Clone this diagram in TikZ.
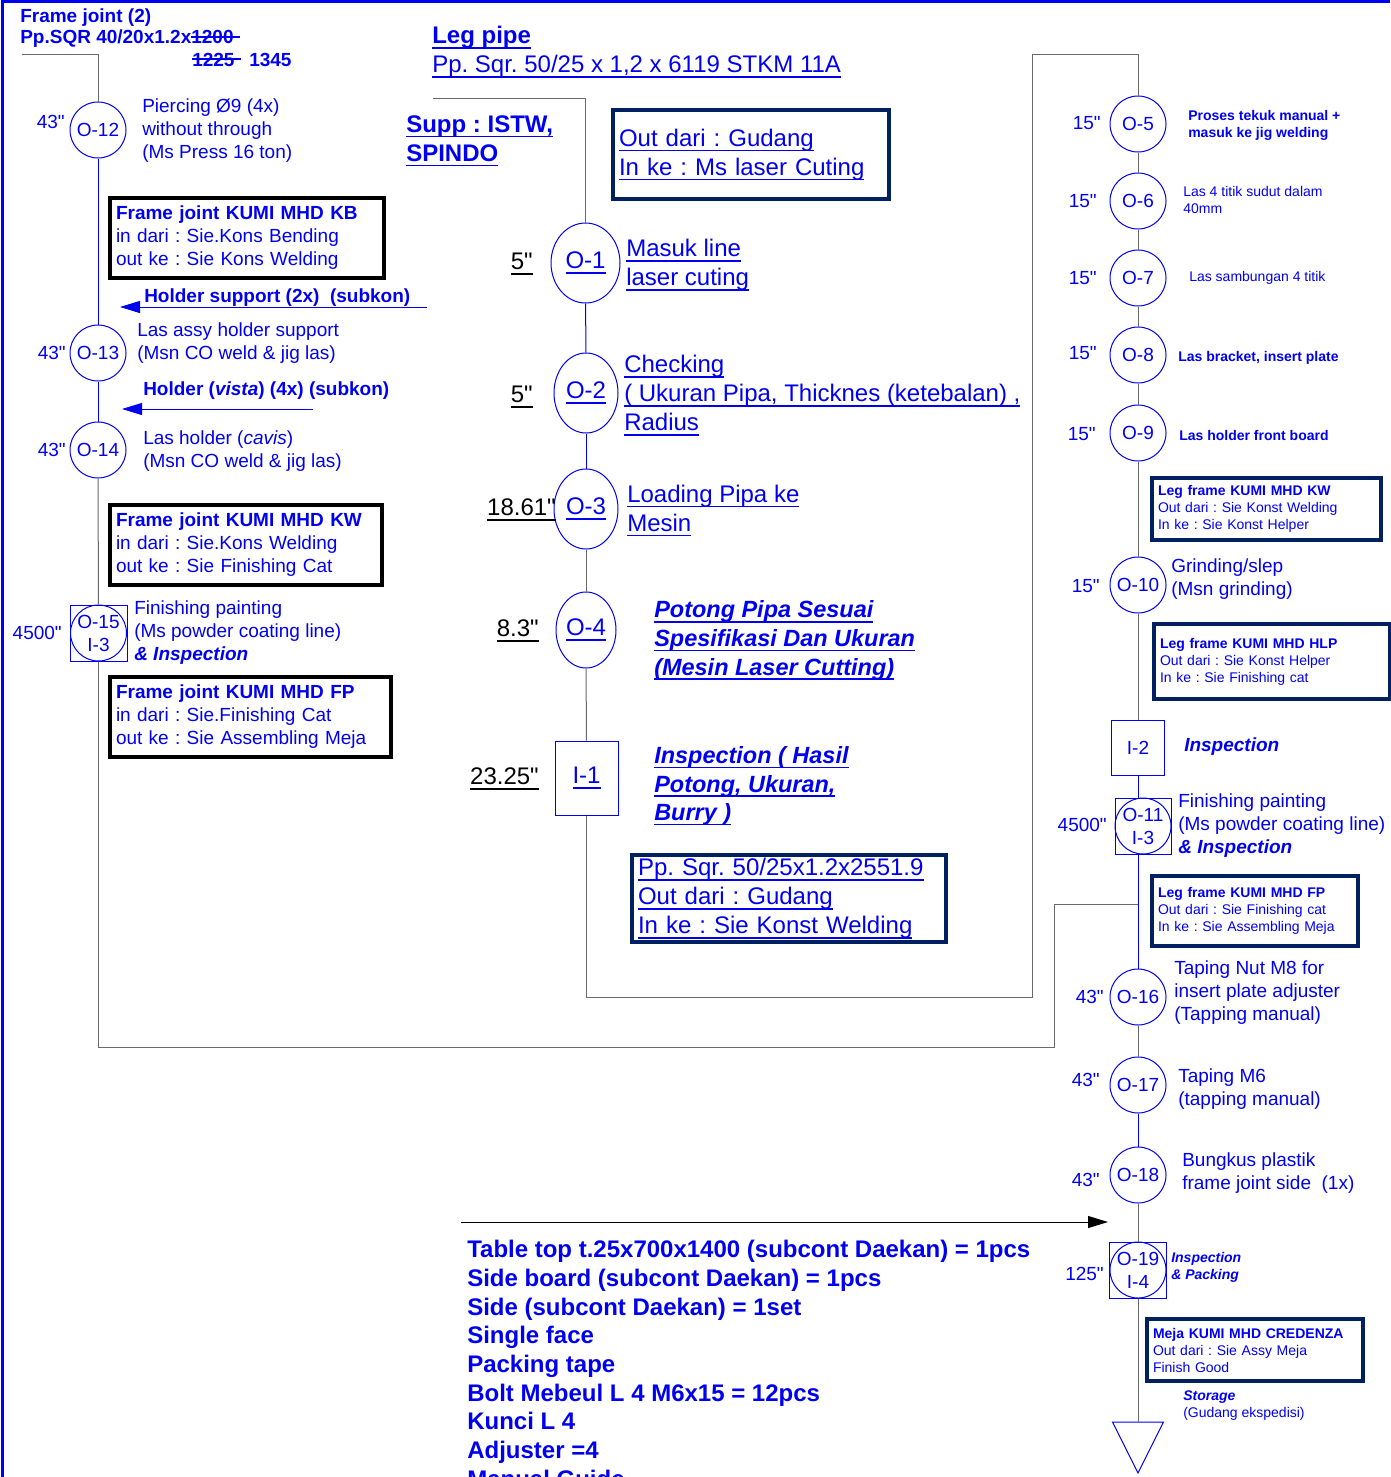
\documentclass[tikz,border=0pt]{standalone}
\usepackage{fontspec}
\setmainfont{Liberation Sans}
\usepackage{tikz}
\usetikzlibrary{shapes.geometric, arrows.meta}
\usepackage{xcolor}
\definecolor{flowblue}{RGB}{0,0,240}
\definecolor{boxnavy}{RGB}{0,32,96}
\definecolor{lngray}{RGB}{105,105,105}
\newcommand{\fnorm}{\fontsize{14.25}{17.25}\selectfont}
\newcommand{\fsmall}{\fontsize{10.5}{12.75}\selectfont}
\newcommand{\fbig}{\fontsize{18}{21.75}\selectfont}
\newcommand{\fbigit}{\fontsize{17.6}{21.5}\selectfont\bfseries\itshape}
\newcommand{\flist}{\fontsize{18}{21.5}\selectfont\bfseries}
\newcommand{\strk}[2]{\leavevmode\rlap{\rule[0.33em]{#2}{1.5pt}}#1}
\newcommand{\undl}[1]{\leavevmode\setbox0\hbox{#1}\rlap{\rule[-0.2em]{\wd0}{1.1pt}}\box0}
\newcommand{\secmark}{\XeTeXglyph\XeTeXcharglyph"22\relax}
\frenchspacing

\begin{document}
\begin{tikzpicture}[x=0.75pt,y=0.75pt,yscale=-1,xscale=1,
  proc/.style={circle,draw=flowblue,line width=0.75pt,minimum size=42pt,inner sep=0pt,text=flowblue,font=\fnorm},
  procell/.style={ellipse,draw=flowblue,line width=0.75pt,inner sep=0pt,text=flowblue,font=\fbig},
  insp/.style={rectangle,draw=flowblue,line width=0.75pt,inner sep=0pt,text=flowblue,font=\fnorm},
  inlbl/.style={align=center,inner sep=0pt,text=flowblue,font=\fnorm},
  fjbox/.style={rectangle,draw=black,line width=3pt,anchor=north west,inner xsep=4.5pt,inner ysep=0pt,align=left,text=flowblue,font=\fnorm},
  navbox/.style={fjbox,draw=boxnavy},
  lbl/.style={anchor=west,inner sep=0pt,align=left,text=flowblue,font=\fnorm},
  lblsmall/.style={lbl,font=\fsmall},
  lblbig/.style={lbl,font=\fbig},
  tm/.style={anchor=east,inner sep=0pt,text=flowblue,font=\fnorm},
  tmbig/.style={anchor=east,inner sep=0pt,text=black,font=\fbig},
  blueln/.style={draw=flowblue,line width=0.75pt},
  grayln/.style={draw=lngray,line width=0.75pt},
  head/.style={-{Triangle[length=15pt,width=9pt]}}
]
\useasboundingbox (0,0) rectangle (1390,1477);
%page frame
\draw[flowblue,line width=2.25pt] (2.5,1477) -- (2.5,1.5) -- (1390,1.5);

%%%%% Frame joint column
% Text Node
\node[lbl,font=\fnorm\bfseries] (fjname) at (20,18) {Frame joint (2)};
\node[lbl,font=\fnorm\bfseries] (fjpipe) at (20,39) {Pp.SQR 40/20x1.2x\strk{1200}{36.75pt}};
\node[lbl,font=\fnorm\bfseries] (fjlen) at (192,60) {\makebox[42.75pt][l]{\strk{1225}{36.75pt}}1345};

\node[proc] (o12) at (98,130) {O-12};
\node[tm] (t12) at (65,122) {43\secmark};
\node[lbl] (d12) at (142,131) {Piercing Ø9 (4x)\\without through\\(Ms Press 16 ton)};

\node[fjbox,text width=196.5pt,minimum height=60pt] (fjkb) at (108,196) {\textbf{Frame joint KUMI MHD KB}\\in dari : Sie.Kons Bending\\out ke : Sie Kons Welding};

% Text Node
\node[lbl,font=\fnorm\bfseries] (hsup) at (144,298) {Holder support (2x)\ \ (subkon)};
\coordinate (hsfrom) at (427,307);
\coordinate (hsto) at (120,307);
\draw[blueln,head] (hsfrom) -- (hsto);

\node[proc] (o13) at (98,353) {O-13};
\node[tm] (t13) at (66,353) {43\secmark};
\node[lbl] (d13) at (137,343.5) {Las assy holder support\\(Msn CO weld \& jig las)};

% Text Node
\node[lbl,font=\fnorm\bfseries] (hvis) at (143,391) {Holder (\textit{vista}) (4x) (subkon)};
\coordinate (hvfrom) at (313,409);
\coordinate (hvto) at (122,409);
\draw[blueln,head] (hvfrom) -- (hvto);

\node[proc] (o14) at (98,450) {O-14};
\node[tm] (t14) at (66,450) {43\secmark};
\node[lbl] (d14) at (143,451.5) {Las holder (\textit{cavis})\\(Msn CO weld \& jig las)};

\node[fjbox,text width=195pt,minimum height=60pt] (fjkw) at (108,503) {\textbf{Frame joint KUMI MHD KW}\\in dari : Sie.Kons Welding\\out ke : Sie Finishing Cat};

\node[insp,minimum width=42.75pt,minimum height=42pt] (o15) at (98.5,633) {};
\node[proc] (o15c) at (98.5,633) {};
\node[inlbl] (o15t) at (o15c) {O-15\\I-3};
\node[tm] (t15) at (62,633) {4500\secmark};
\node[lbl] (d15) at (134,632.5) {Finishing painting\\(Ms powder coating line)\\\textbf{\textit{\& Inspection}}};

\node[fjbox,text width=201.75pt,minimum height=60pt] (fjfp) at (108,675) {\textbf{Frame joint KUMI MHD FP}\\in dari : Sie.Finishing Cat\\out ke : Sie Assembling Meja};

%flow lines frame joint
\coordinate (fjstart) at (22,55);
\coordinate (fjbend) at (1054,1047);
\coordinate (joinR) at (1138,904);
\draw[grayln] (fjstart) -| (o12.north);
\draw[blueln] (o12) -- (o13);
\draw[blueln] (o13) -- (o14);
\draw[grayln] (o14) -- (o15);
\draw[grayln] (o15.south) |- (fjbend) |- (joinR);

%%%%% Leg pipe column
% Text Node
\node[lblbig] (legname) at (432,52) {\undl{\textbf{Leg pipe}}\\\undl{Pp. Sqr. 50/25 x 1,2 x 6119 STKM 11A}};
\node[lblbig] (supp) at (406,141) {\undl{\textbf{Supp : ISTW,}}\\\undl{\textbf{SPINDO}}};
\node[navbox,font=\fbig,text width=198pt,minimum height=66.75pt] (leggud) at (611,108) {\undl{Out dari : Gudang}\\\undl{In ke : Ms laser Cuting}};

\node[procell,minimum width=51.75pt,minimum height=60pt] (o1) at (585.5,263) {\undl{O-1}};
\node[tmbig] (t1) at (533,264) {\undl{5\secmark}};
\node[lblbig] (d1) at (626,265) {\undl{Masuk line}\\\undl{laser cuting}};

\node[procell,minimum width=48pt,minimum height=60pt] (o2) at (586,393) {\undl{O-2}};
\node[tmbig] (t2) at (533,397) {\undl{5\secmark}};
\node[lblbig] (d2) at (624,395.5) {\undl{Checking}\\\undl{( Ukuran Pipa, Thicknes (ketebalan) ,}\\\undl{Radius}};

\node[procell,minimum width=48pt,minimum height=60pt] (o3) at (586,509) {\undl{O-3}};
\node[tmbig] (t3) at (556,510) {\undl{18.61\secmark}};
\node[lblbig] (d3) at (627,510.5) {\undl{Loading Pipa ke}\\\undl{Mesin}};

\node[procell,minimum width=45pt,minimum height=57pt] (o4) at (586,630) {\undl{O-4}};
\node[tmbig] (t4) at (539,631) {\undl{8.3\secmark}};
\node[lblbig,font=\fbigit] (d4) at (654,640.5) {\undl{Potong Pipa Sesuai}\\\undl{Spesifikasi Dan Ukuran}\\\undl{(Mesin Laser Cutting)}};

\node[insp,font=\fbig,minimum width=47.25pt,minimum height=55.5pt] (i1) at (586.5,778) {\undl{I-1}};
\node[tmbig] (ti1) at (539,779) {\undl{23.25\secmark}};
\node[lblbig,font=\fbigit] (di1) at (654,786) {\undl{Inspection ( Hasil}\\\undl{Potong, Ukuran,}\\\undl{Burry )}};

\node[navbox,font=\fbig,text width=226.5pt,minimum height=65.25pt] (legsqr) at (630,853) {\undl{Pp. Sqr. 50/25x1.2x2551.9}\\\undl{Out dari : Gudang}\\\undl{In ke : Sie Konst Welding}};

%%%%% Leg frame column
\node[proc] (o5) at (1138,124) {O-5};
\node[tm] (t5) at (1101,123) {15\secmark};
\node[lblsmall,font=\fsmall\bfseries] (d5) at (1188,125.5) {Proses tekuk manual +\\masuk ke jig welding};

\node[proc] (o6) at (1138,201) {O-6};
\node[tm] (t6) at (1097,201) {15\secmark};
\node[lblsmall] (d6) at (1183,200) {Las 4 titik sudut dalam\\40mm};

\node[proc] (o7) at (1138,278) {O-7};
\node[tm] (t7) at (1097,278) {15\secmark};
\node[lblsmall] (d7) at (1189,278) {Las sambungan 4 titik};

\node[proc] (o8) at (1138,355) {O-8};
\node[tm] (t8) at (1097,353) {15\secmark};
\node[lblsmall,font=\fsmall\bfseries] (d8) at (1178,358) {Las bracket, insert plate};

\node[proc] (o9) at (1138,433) {O-9};
\node[tm] (t9) at (1096,434) {15\secmark};
\node[lblsmall,font=\fsmall\bfseries] (d9) at (1179,435) {Las holder front board};

\node[navbox,font=\fsmall,text width=162.75pt,minimum height=46.5pt] (lfkw) at (1150,476) {\textbf{Leg frame KUMI MHD KW}\\Out dari : Sie Konst Welding\\In ke : Sie Konst Helper};

\node[proc] (o10) at (1138,585) {O-10};
\node[tm] (t10) at (1100,586) {15\secmark};
\node[lbl] (d10) at (1171,579) {Grinding/slep\\(Msn grinding)};

\node[navbox,font=\fsmall,text width=168pt,minimum height=56.25pt] (lfhlp) at (1152,622) {\textbf{Leg frame KUMI MHD HLP}\\Out dari : Sie Konst Helper\\In ke : Sie Finishing cat};

\node[insp,minimum width=39.75pt,minimum height=41.25pt] (i2) at (1138,747.5) {I-2};
\node[lbl,font=\fnorm\bfseries\itshape] (di2) at (1184,747) {Inspection};

\node[insp,minimum width=42pt,minimum height=42pt] (o11) at (1143,826) {};
\node[proc] (o11c) at (1143,826) {};
\node[inlbl] (o11t) at (o11c) {O-11\\I-3};
\node[tm] (t11) at (1107,825) {4500\secmark};
\node[lbl] (d11) at (1178,825.5) {Finishing painting\\(Ms powder coating line)\\\textbf{\textit{\& Inspection}}};

\node[navbox,font=\fsmall,text width=145.5pt,minimum height=52.5pt] (lffp) at (1150,874) {\textbf{Leg frame KUMI MHD FP}\\Out dari : Sie Finishing cat\\In ke : Sie Assembling Meja};

\node[proc] (o16) at (1138,997) {O-16};
\node[tm] (t16) at (1104,997) {43\secmark};
\node[lbl] (d16) at (1174,993) {Taping Nut M8 for\\insert plate adjuster\\(Tapping manual)};

\node[proc] (o17) at (1138,1085) {O-17};
\node[tm] (t17) at (1100,1080) {43\secmark};
\node[lbl] (d17) at (1178,1089.5) {Taping M6\\(tapping manual)};

\node[proc] (o18) at (1138,1175) {O-18};
\node[tm] (t18) at (1100,1180) {43\secmark};
\node[lbl] (d18) at (1182,1173.5) {Bungkus plastik\\frame joint side\ \ (1x)};

\node[insp,minimum width=42.75pt,minimum height=42pt] (o19) at (1138,1270) {};
\node[proc] (o19c) at (1138,1270) {};
\node[inlbl] (o19t) at (o19c) {O-19\\I-4};
\node[tm] (t19) at (1104,1274) {125\secmark};
\node[lblsmall,font=\fsmall\bfseries\itshape] (d19) at (1171,1267) {Inspection\\\& Packing};

\node[navbox,font=\fsmall,text width=153pt,minimum height=46.5pt] (credenza) at (1145,1317) {\textbf{Meja KUMI MHD CREDENZA}\\Out dari : Sie Assy Meja\\Finish Good};

\node[lblsmall] (dstor) at (1183,1405.5) {\textbf{\textit{Storage}}\\(Gudang ekspedisi)};
\coordinate (stor) at (1138,1422);
\draw[blueln] (stor) ++(-25.5,0) -- ++(51,0) -- ++(-25.5,51) -- cycle;

%flow lines leg pipe
\coordinate (legstart) at (433,98);
\coordinate (legbend) at (1032,997);
\coordinate (topR) at (1138,55);
\draw[grayln] (legstart) -| (o1.north);
\draw[blueln] (o1) -- (o2);
\draw[blueln] (o2) -- (o3);
\draw[grayln] (o3) -- (o4);
\draw[grayln] (o4) -- (i1);
\draw[grayln] (i1.south) |- (legbend) |- (topR) -- (o5.north);

%flow lines leg frame
\draw[grayln] (o5) -- (o6);
\draw[grayln] (o6) -- (o7);
\draw[grayln] (o7) -- (o8);
\draw[grayln] (o8) -- (o9);
\draw[grayln] (o9) -- (o10);
\draw[grayln] (o10) -- (i2);
\draw[blueln] (i2.south) -- (i2.south |- o11.north);
\draw[blueln] (o11.south -| o16) -- (o16.north);
\draw[grayln] (o16) -- (o17);
\draw[blueln] (o17) -- (o18);
\draw[grayln] (o18) -- (o19);
\draw[grayln] (o19) -- (stor);

%%%%% kit parts
\coordinate (kitstart) at (461,1222);
\coordinate (kitend) at (1108,1222);
\draw[line width=0.75pt,head] (kitstart) -- (kitend);
% Text Node
\node[lbl,font=\flist] (kit) at (467,1364) {Table top t.25x700x1400 (subcont Daekan) = 1pcs\\Side board (subcont Daekan) = 1pcs\\Side (subcont Daekan) = 1set\\Single face\\Packing tape\\Bolt Mebeul L 4 M6x15 = 12pcs\\Kunci L 4\\Adjuster =4\\Manual Guide};

\end{tikzpicture}
\end{document}
